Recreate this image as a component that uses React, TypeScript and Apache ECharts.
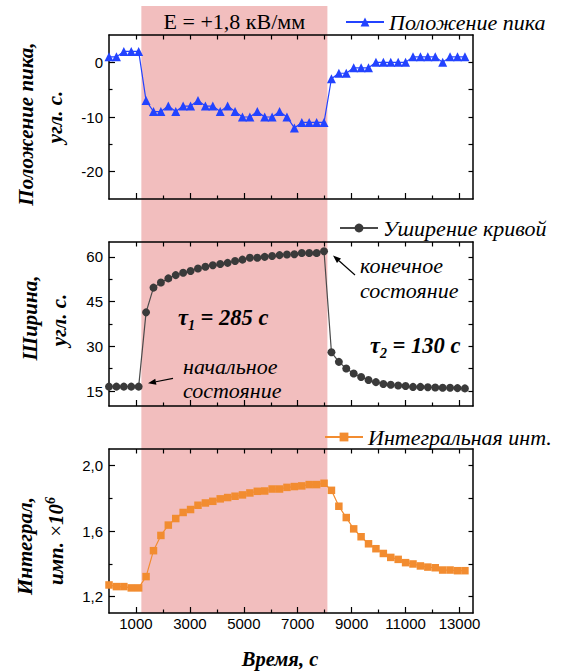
import React, { useEffect, useRef } from "react";
import * as echarts from "echarts";

// Measurement times, s
const TIME_S = [
  0, 275, 550, 825, 1100, 1375, 1650, 1925, 2200, 2475, 2750, 3025, 3300, 3575, 3850, 4125, 4400,
  4675, 4950, 5225, 5500, 5775, 6050, 6325, 6600, 6875, 7150, 7425, 7700, 7975, 8250, 8525, 8800,
  9075, 9350, 9625, 9900, 10175, 10450, 10725, 11000, 11275, 11550, 11825, 12100, 12375, 12650,
  12925, 13200,
];

// Peak position, arc s
const PEAK_POSITION = [
  1, 1, 2, 2, 2,
  -7, -9, -9, -8, -9, -8, -8, -7, -8, -8, -9, -8, -9, -10, -10, -9, -10, -10, -9, -10, -12, -11, -11, -11, -11,
  -3, -2, -2, -1, -1, -1, 0, 0, 0, 0, 0, 1, 1, 1, 1, 0, 1, 1, 1,
];

// Curve width, arc s
const CURVE_WIDTH = [
  16.5, 16.5, 16.5, 16.5, 16.5,
  41.4, 49.7, 51.4, 52.8, 53.9, 54.7, 55.3, 56.1, 56.7, 57.2, 57.6, 58.0, 58.6, 59.1, 59.7, 59.7,
  60.0, 60.3, 60.6, 60.8, 60.9, 61.3, 61.3, 61.3, 61.9,
  28.0, 24.8, 22.6, 20.9, 19.7, 18.7, 18.0, 17.4, 17.1, 16.9, 16.7, 16.4, 16.4, 16.3, 16.2, 16.1,
  16.1, 16.0, 15.9,
];

// Integrated intensity, counts x 10^6
const INTEGRAL = [
  1.271, 1.261, 1.261, 1.253, 1.253,
  1.322, 1.48, 1.573, 1.636, 1.676, 1.713, 1.731, 1.757, 1.771, 1.781, 1.796, 1.804, 1.812, 1.82,
  1.832, 1.842, 1.844, 1.856, 1.856, 1.866, 1.871, 1.875, 1.883, 1.883, 1.891,
  1.848, 1.751, 1.682, 1.613, 1.565, 1.522, 1.492, 1.463, 1.439, 1.427, 1.407, 1.399, 1.387, 1.38,
  1.376, 1.362, 1.362, 1.358, 1.358,
];

// Field switched on / off, s
const FIELD_ON_S = 1200;
const FIELD_OFF_S = 8100;

const X_MIN = 0;
const X_MAX = 13500;
const X_LABEL_TICKS = [1000, 3000, 5000, 7000, 9000, 11000, 13000];
const X_MINOR_TICKS = [2000, 4000, 6000, 8000, 10000, 12000];

const PEAK_RANGE = [-25, 5];
const PEAK_TICKS = [-20, -10, 0];
const PEAK_MINOR = [-15, -5];

const WIDTH_RANGE = [10, 65];
const WIDTH_TICKS = [15, 30, 45, 60];
const WIDTH_MINOR = [22.5, 37.5, 52.5];

const INTEGRAL_RANGE = [1.1, 2.1];
const INTEGRAL_TICKS = [1.2, 1.6, 2.0];
const INTEGRAL_MINOR = [1.4, 1.8];

const SERIES_NAMES = ["Положение пика", "Уширение кривой", "Интегральная инт."];

const SERIF = "Liberation Serif";
const SANS = "Liberation Sans";

const PLOT_LEFT = 109;
const PLOT_WIDTH = 364;
const PANEL_HEIGHT = 164;
const PANEL_TOPS = [35, 242, 449];

const SHADE = "#F2BEBE";

type Panel = {
  name: string;
  values: number[];
  range: number[];
  major: number[];
  minor: number[];
  fmt: (v: number) => string;
  color: string;
  lineColor: string;
  symbol: string;
  symbolSize: number;
  legend: { left: number; top: number };
};

const PANELS: Panel[] = [
  {
    name: SERIES_NAMES[0],
    values: PEAK_POSITION,
    range: PEAK_RANGE,
    major: PEAK_TICKS,
    minor: PEAK_MINOR,
    fmt: (v) => String(Math.round(v)),
    color: "#2343ff",
    lineColor: "#2343ff",
    symbol: "triangle",
    symbolSize: 9,
    legend: { left: 345, top: 11 },
  },
  {
    name: SERIES_NAMES[1],
    values: CURVE_WIDTH,
    range: WIDTH_RANGE,
    major: WIDTH_TICKS,
    minor: WIDTH_MINOR,
    fmt: (v) => String(Math.round(v)),
    color: "#3a3a3a",
    lineColor: "#4a4a4a",
    symbol: "circle",
    symbolSize: 8,
    legend: { left: 339, top: 217 },
  },
  {
    name: SERIES_NAMES[2],
    values: INTEGRAL,
    range: INTEGRAL_RANGE,
    major: INTEGRAL_TICKS,
    minor: INTEGRAL_MINOR,
    fmt: (v) => v.toFixed(1).replace(".", ","),
    color: "#f28c30",
    lineColor: "#f28c30",
    symbol: "rect",
    symbolSize: 7.5,
    legend: { left: 324, top: 426 },
  },
];

const AXIS_LINE = { color: "#000", width: 1.5 };
const TICK_LINE = { color: "#000", width: 1.2 };

function xAxesFor(gi: number) {
  const common = {
    type: "value",
    gridIndex: gi,
    min: X_MIN,
    max: X_MAX,
    splitLine: { show: false },
  };
  return [
    {
      ...common,
      position: "bottom",
      axisLine: { show: true, onZero: false, lineStyle: AXIS_LINE },
      axisTick: { show: true, inside: true, length: 6, customValues: X_LABEL_TICKS, lineStyle: TICK_LINE },
      axisLabel: {
        show: gi === 2,
        customValues: X_LABEL_TICKS,
        formatter: (v: number) => String(Math.round(v)),
        color: "#000",
        fontFamily: SANS,
        fontSize: 15,
        margin: 3,
      },
    },
    {
      ...common,
      position: "bottom",
      axisLine: { show: false, onZero: false },
      axisTick: { show: true, inside: true, length: 3.5, customValues: X_MINOR_TICKS, lineStyle: TICK_LINE },
      axisLabel: { show: false },
    },
    {
      ...common,
      position: "top",
      axisLine: { show: true, onZero: false, lineStyle: AXIS_LINE },
      axisTick: {
        show: true,
        inside: true,
        length: 4.5,
        customValues: [...X_LABEL_TICKS, ...X_MINOR_TICKS],
        lineStyle: TICK_LINE,
      },
      axisLabel: { show: false },
    },
  ];
}

function yAxesFor(gi: number, p: Panel) {
  const common = {
    type: "value",
    gridIndex: gi,
    min: p.range[0],
    max: p.range[1],
    splitLine: { show: false },
  };
  return [
    {
      ...common,
      position: "left",
      axisLine: { show: true, onZero: false, lineStyle: AXIS_LINE },
      axisTick: { show: true, inside: true, length: 6, customValues: p.major, lineStyle: TICK_LINE },
      axisLabel: {
        show: true,
        customValues: p.major,
        formatter: p.fmt,
        color: "#000",
        fontFamily: SANS,
        fontSize: 15,
        margin: 6,
      },
    },
    {
      ...common,
      position: "left",
      axisLine: { show: false, onZero: false },
      axisTick: { show: true, inside: true, length: 3.5, customValues: p.minor, lineStyle: TICK_LINE },
      axisLabel: { show: false },
    },
    {
      ...common,
      position: "right",
      axisLine: { show: true, onZero: false, lineStyle: AXIS_LINE },
      axisTick: {
        show: true,
        inside: true,
        length: 4.5,
        customValues: [...p.major, ...p.minor],
        lineStyle: TICK_LINE,
      },
      axisLabel: { show: false },
    },
  ];
}

function buildOption() {
  return {
    animation: false,
    backgroundColor: "#fff",
    grid: PANEL_TOPS.map((top) => ({
      left: PLOT_LEFT,
      top,
      width: PLOT_WIDTH,
      height: PANEL_HEIGHT,
      containLabel: false,
    })),
    xAxis: PANELS.flatMap((_, gi) => xAxesFor(gi)),
    yAxis: PANELS.flatMap((p, gi) => yAxesFor(gi, p)),
    legend: PANELS.map((p) => ({
      data: [p.name],
      left: p.legend.left,
      top: p.legend.top,
      padding: 0,
      itemWidth: 38,
      itemHeight: 11,
      selectedMode: false,
      textStyle: { fontFamily: SERIF, fontStyle: "italic", fontSize: 22, color: "#000" },
    })),
    series: PANELS.map((p, gi) => ({
      type: "line",
      name: p.name,
      xAxisIndex: gi * 3,
      yAxisIndex: gi * 3,
      data: TIME_S.map((t, k) => [t, p.values[k]]),
      symbol: p.symbol,
      symbolSize: p.symbolSize,
      showSymbol: true,
      lineStyle: { color: p.lineColor, width: 1.2 },
      itemStyle: { color: p.color },
      z: 3,
    })),
  };
}

function arrow(tail: number[], tip: number[]) {
  const dx = tip[0] - tail[0];
  const dy = tip[1] - tail[1];
  const len = Math.hypot(dx, dy);
  const ux = dx / len;
  const uy = dy / len;
  const headLen = 8;
  const headHalf = 3;
  const bx = tip[0] - ux * headLen;
  const by = tip[1] - uy * headLen;
  return [
    {
      type: "line",
      z: 10,
      silent: true,
      shape: { x1: tail[0], y1: tail[1], x2: bx, y2: by },
      style: { stroke: "#000", lineWidth: 1.2 },
    },
    {
      type: "polygon",
      z: 10,
      silent: true,
      shape: {
        points: [
          [tip[0], tip[1]],
          [bx - uy * headHalf, by + ux * headHalf],
          [bx + uy * headHalf, by - ux * headHalf],
        ],
      },
      style: { fill: "#000" },
    },
  ];
}

function vText(text: string, x: number, y: number) {
  return {
    type: "text",
    z: 10,
    silent: true,
    x,
    y,
    rotation: Math.PI / 2,
    style: {
      text,
      fontFamily: SERIF,
      fontStyle: "italic",
      fontWeight: "bold",
      fontSize: 21,
      fill: "#000",
      align: "center",
      verticalAlign: "middle",
    },
  };
}

function plainText(text: string, x: number, y: number, size: number, italic: boolean, align = "left") {
  return {
    type: "text",
    z: 10,
    silent: true,
    x,
    y,
    style: {
      text,
      fontFamily: SERIF,
      fontStyle: italic ? "italic" : "normal",
      fontSize: size,
      fill: "#000",
      align,
      verticalAlign: "middle",
    },
  };
}

function tauText(sub: string, rest: string, x: number, y: number) {
  const base = { fontFamily: SERIF, fontStyle: "italic", fontWeight: "bold", fill: "#000" };
  return {
    type: "text",
    z: 10,
    silent: true,
    x,
    y,
    style: {
      text: `{t|τ}{s|${sub}}{t|${rest}}`,
      align: "left",
      verticalAlign: "middle",
      rich: {
        t: { ...base, fontSize: 22.5, lineHeight: 30 },
        s: { ...base, fontSize: 14, lineHeight: 17, verticalAlign: "bottom" },
      },
    },
  };
}

function buildGraphic(chart: echarts.ECharts) {
  const x1 = chart.convertToPixel({ xAxisIndex: 0 }, FIELD_ON_S) as number;
  const x2 = chart.convertToPixel({ xAxisIndex: 0 }, FIELD_OFF_S) as number;
  const yBottom = chart.convertToPixel({ yAxisIndex: 6 }, INTEGRAL_RANGE[0]) as number;
  const sup = { fontFamily: SERIF, fontStyle: "italic", fontWeight: "bold", fill: "#000" };

  return [
    {
      type: "rect",
      z: -10,
      silent: true,
      shape: { x: x1, y: 6, width: x2 - x1, height: yBottom - 6 },
      style: { fill: SHADE },
    },
    plainText("E = +1,8 кВ/мм", (x1 + x2) / 2, 21, 22, false, "center"),

    vText("Положение пика,", 26, 124),
    vText("угл. с.", 55, 117),
    vText("Ширина,", 30, 318),
    vText("угл. с.", 59, 320),
    vText("Интеграл,", 25, 546),
    {
      type: "text",
      z: 10,
      silent: true,
      x: 56,
      y: 541,
      rotation: Math.PI / 2,
      style: {
        text: "{b|имп. }{m|×}{b|10}{p|6}",
        align: "center",
        verticalAlign: "middle",
        rich: {
          b: { ...sup, fontSize: 21, lineHeight: 26 },
          m: { fontFamily: SERIF, fontSize: 21, lineHeight: 26, fill: "#000" },
          p: { ...sup, fontSize: 14, lineHeight: 16, verticalAlign: "top" },
        },
      },
    },

    {
      type: "text",
      z: 10,
      silent: true,
      x: 280,
      y: 659,
      style: {
        text: "Время, с",
        fontFamily: SERIF,
        fontStyle: "italic",
        fontWeight: "bold",
        fontSize: 20.5,
        fill: "#000",
        align: "center",
        verticalAlign: "middle",
      },
    },

    tauText("1", " = 285 с", 178, 317),
    tauText("2", " = 130 с", 370, 345),

    plainText("конечное", 360, 265, 22, true),
    plainText("состояние", 360, 290, 22, true),
    plainText("начальное", 183, 366, 22, true),
    plainText("состояние", 183, 390, 22, true),

    ...arrow([355, 275], [333, 255.5]),
    ...arrow([173, 378.3], [148, 383.3]),
  ];
}

export default function App() {
  const ref = useRef<HTMLDivElement>(null);

  useEffect(() => {
    const el = ref.current;
    if (!el) return;
    const chart = echarts.init(el, undefined, { renderer: "svg" });
    chart.setOption(buildOption() as any);
    chart.setOption({ graphic: buildGraphic(chart) } as any);
    return () => chart.dispose();
  }, []);

  return (
    <div
      ref={ref}
      style={{ position: "fixed", left: 0, top: 0, width: 566, height: 671, background: "#fff" }}
    />
  );
}
